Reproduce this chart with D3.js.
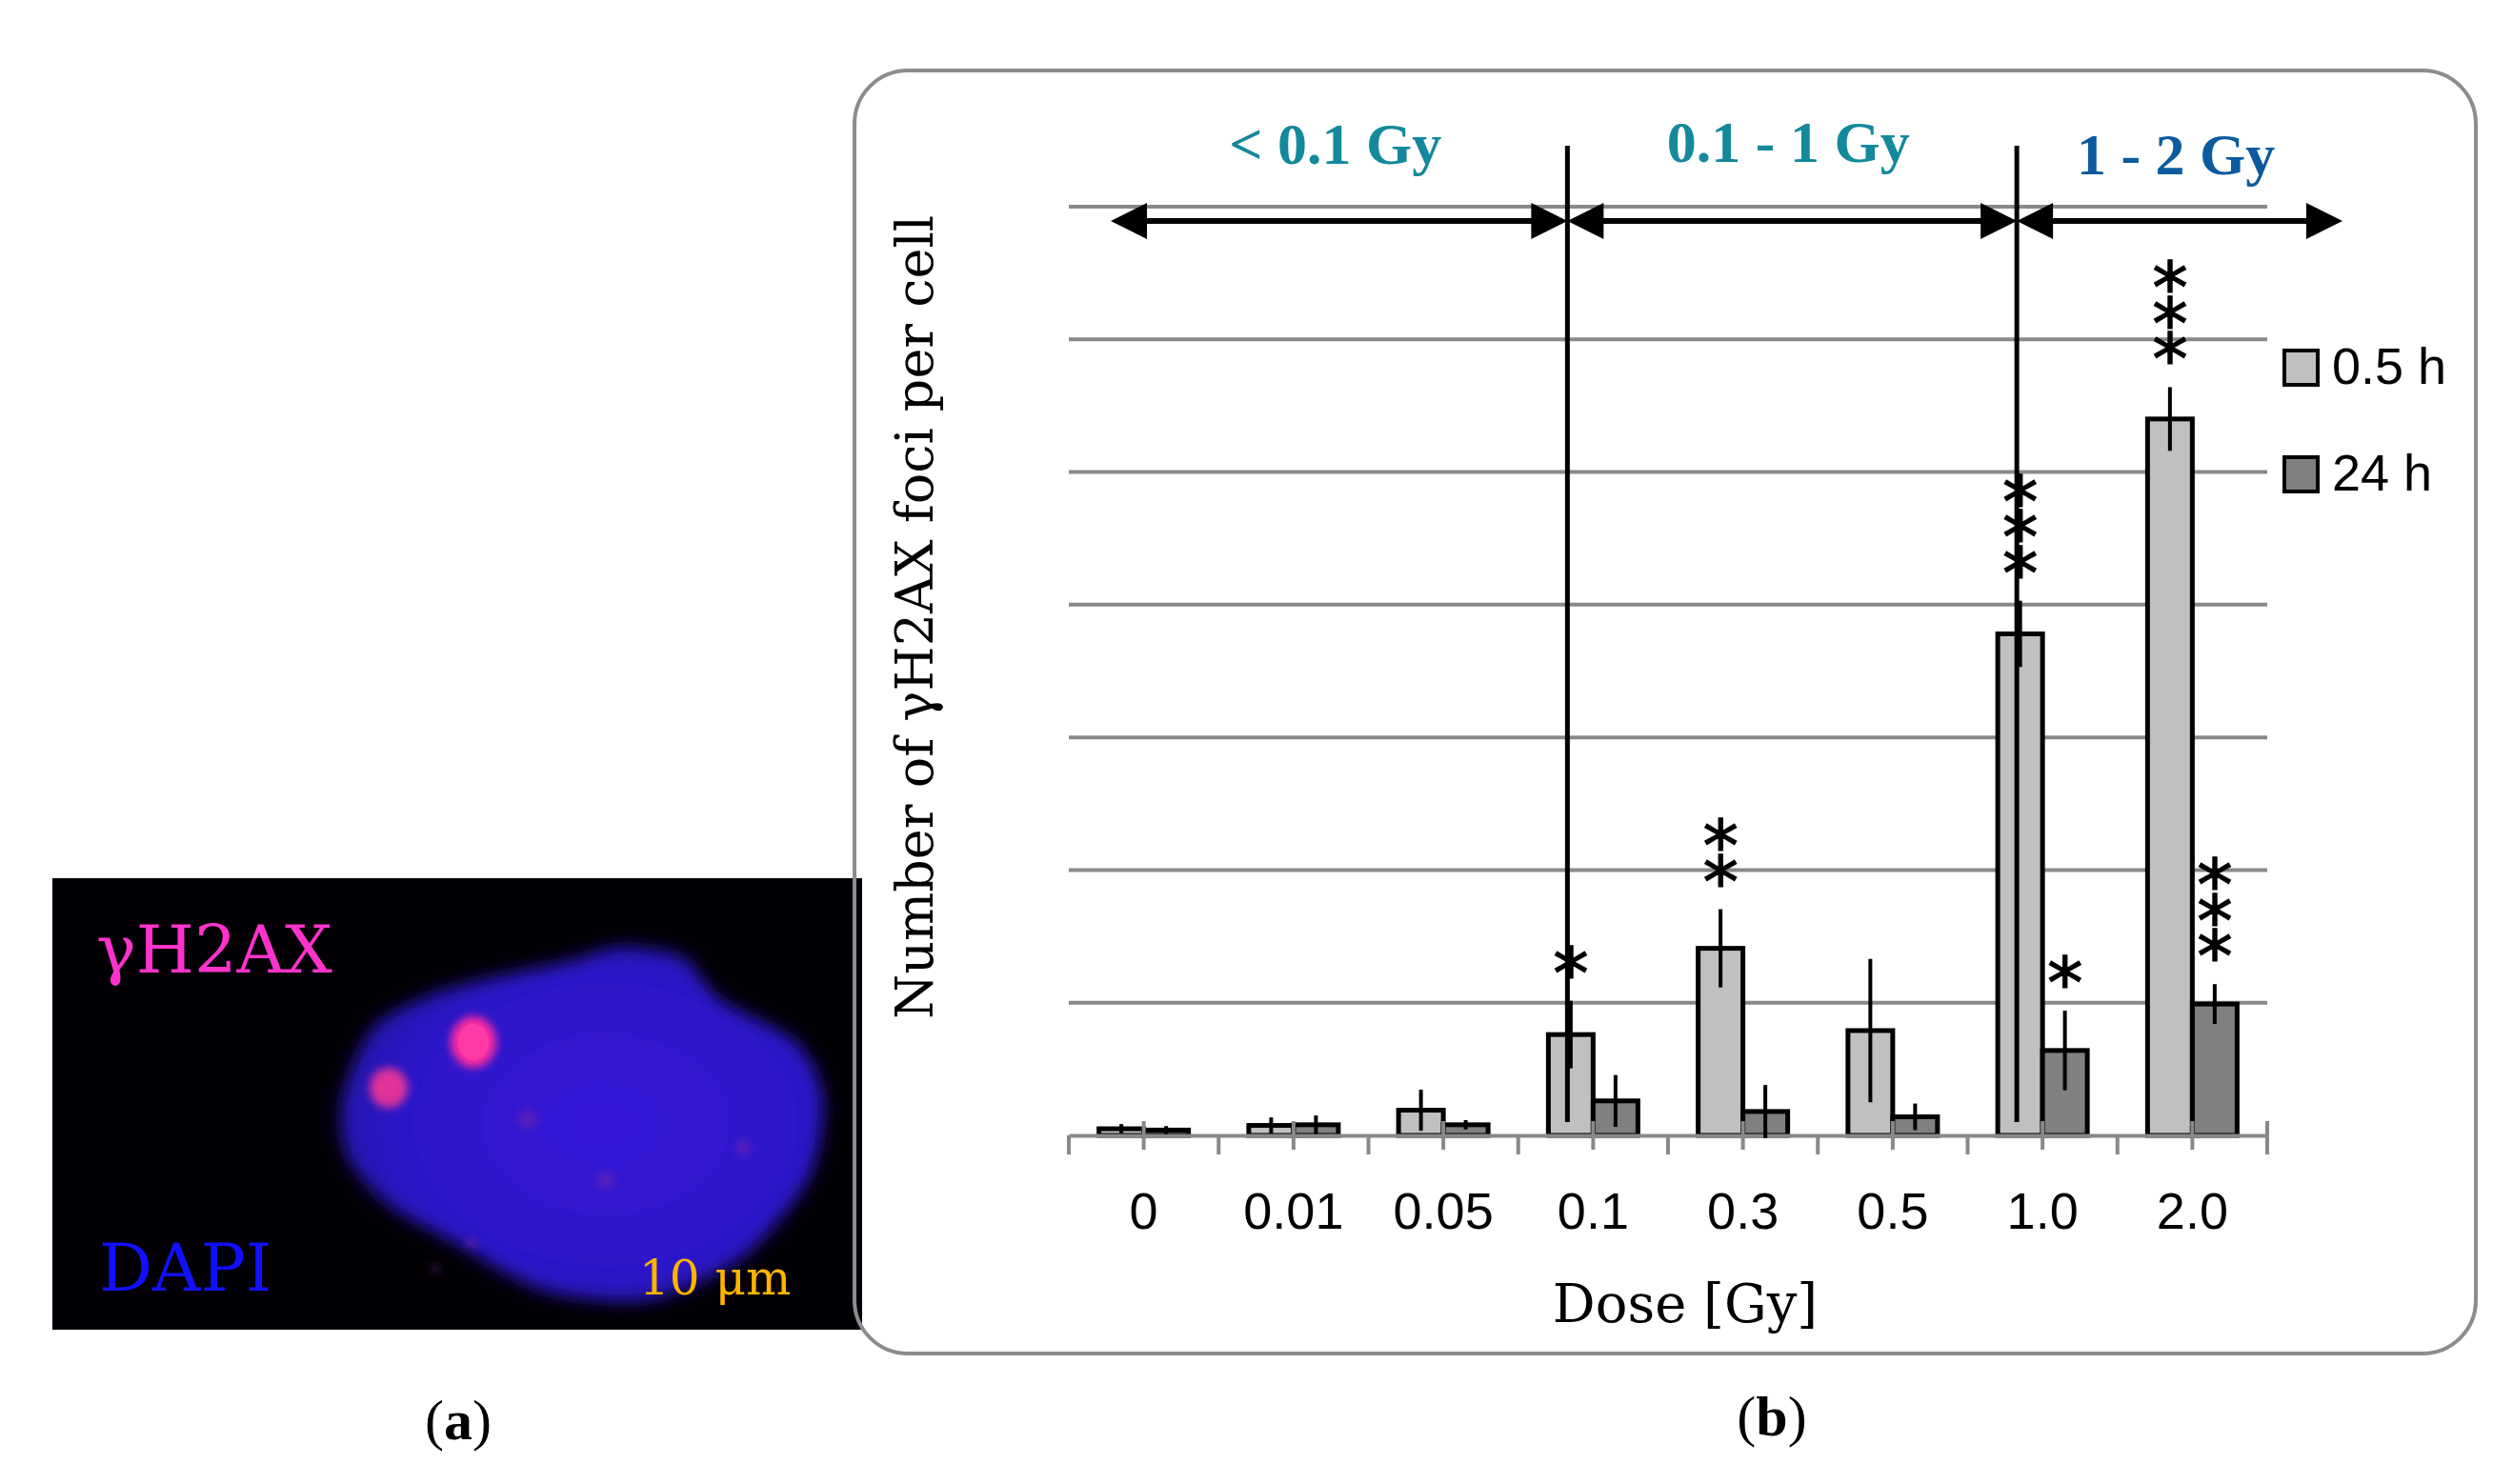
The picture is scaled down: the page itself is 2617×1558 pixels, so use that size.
<!DOCTYPE html>
<html lang="en">
<head>
<meta charset="UTF-8">
<title>gammaH2AX foci per cell</title>
<script src="https://cdn.jsdelivr.net/npm/d3@7"></script>
<style>
  body { margin: 0; background: #fff; }
  svg { display: block; }
</style>
</head>
<body>
<div id="container"></div>
<script>
// ---- data ----
const doses = ["0", "0.01", "0.05", "0.1", "0.3", "0.5", "1.0", "2.0"];
const seriesNames = ["0.5 h", "24 h"];
const foci05h = [0.05, 0.075, 0.19, 0.76, 1.41, 0.79, 3.78, 5.40];
const err05h  = [0.035, 0.06, 0.155, 0.255, 0.295, 0.54, 0.25, 0.24];
const foci24h = [0.04, 0.08, 0.08, 0.26, 0.18, 0.14, 0.64, 0.99];
const err24h  = [0.03, 0.07, 0.035, 0.195, 0.2, 0.1, 0.3, 0.15];
const sig05h  = ["", "", "", "*", "**", "", "***", "***"];
const sig24h  = ["", "", "", "", "", "", "*", "***"];
const yTicks = [1, 2, 3, 4, 5, 6, 7];
const rangeLabels = ["< 0.1 Gy", "0.1 - 1 Gy", "1 - 2 Gy"];
const rangeBreaks = ["0.1", "1.0"];

// nucleus outline for the micrograph in panel (a)
const nucleusOutline = [[359,1155],[392,1079],[468,1039],[598,1009],[652,994],[717,1005],
  [755,1049],[837,1095],[864,1155],[848,1239],[777,1322],[679,1365],[571,1355],[478,1305],
  [408,1265],[365,1215]];

const width = 2617, height = 1558;
const svg = d3.select("#container")
    .append("svg")
    .attr("width", width)
    .attr("height", height);

const defs = svg.append("defs");

// ---------------- panel (a): micrograph ----------------
defs.append("clipPath").attr("id", "photoClip")
    .append("rect").attr("x", 55).attr("y", 922).attr("width", 850).attr("height", 474);
defs.append("filter").attr("id", "blurBig").attr("x", "-20%").attr("y", "-20%").attr("width", "140%").attr("height", "140%")
    .append("feGaussianBlur").attr("stdDeviation", 9);
defs.append("filter").attr("id", "blurSmall").attr("x", "-50%").attr("y", "-50%").attr("width", "200%").attr("height", "200%")
    .append("feGaussianBlur").attr("stdDeviation", 5);
const grad = defs.append("radialGradient").attr("id", "nucGrad")
    .attr("cx", "55%").attr("cy", "50%").attr("r", "60%");
grad.append("stop").attr("offset", "0%").attr("stop-color", "#3519d8");
grad.append("stop").attr("offset", "70%").attr("stop-color", "#2c16ca");
grad.append("stop").attr("offset", "100%").attr("stop-color", "#2210a6");

const photo = svg.append("g").attr("clip-path", "url(#photoClip)");
photo.append("rect").attr("x", 55).attr("y", 922).attr("width", 850).attr("height", 474).attr("fill", "#020005");
photo.append("path")
    .attr("d", d3.line().curve(d3.curveCardinalClosed.tension(0.2))(nucleusOutline))
    .attr("fill", "url(#nucGrad)")
    .attr("filter", "url(#blurBig)");
// faint spots inside the nucleus
[[636,1239,9],[554,1175,10],[495,1305,6],[457,1332,4],[780,1205,8]].forEach(s => {
  photo.append("circle").attr("cx", s[0]).attr("cy", s[1]).attr("r", s[2])
      .attr("fill", "#7a2aa8").attr("opacity", 0.55).attr("filter", "url(#blurSmall)");
});
// gammaH2AX foci
photo.append("ellipse").attr("cx", 408).attr("cy", 1142).attr("rx", 20).attr("ry", 21)
    .attr("fill", "#e0339a").attr("filter", "url(#blurSmall)");
photo.append("ellipse").attr("cx", 497).attr("cy", 1094).attr("rx", 24).attr("ry", 27)
    .attr("fill", "#ff2aa0").attr("filter", "url(#blurSmall)");
photo.append("ellipse").attr("cx", 497).attr("cy", 1094).attr("rx", 16).attr("ry", 19)
    .attr("fill", "#ff3aa8");

photo.append("text").attr("x", 101).attr("y", 1021)
    .attr("font-family", "DejaVu Serif").attr("font-size", 70).attr("fill", "#ff33cc")
    .text("γH2AX");
photo.append("text").attr("x", 104).attr("y", 1355)
    .attr("font-family", "DejaVu Serif").attr("font-size", 70).attr("fill", "#1010ff")
    .text("DAPI");
photo.append("text").attr("x", 671).attr("y", 1359)
    .attr("font-family", "DejaVu Serif").attr("font-size", 50).attr("fill", "#ffb400")
    .text("10 μm");

// ---------------- panel (b): bar chart ----------------
svg.append("rect")
    .attr("x", 897).attr("y", 74).attr("width", 1702).attr("height", 1347)
    .attr("rx", 56).attr("ry", 56)
    .attr("fill", "none").attr("stroke", "#8c8c8c").attr("stroke-width", 4);

// scales
const xScale = d3.scaleBand().domain(doses).range([1122, 2380]);
const barW = 47;
const xSub = d3.scaleBand().domain(seriesNames).range([0, 2 * barW]);
const yScale = d3.scaleLinear().domain([0, 7]).range([1192, 217]);
const colors = d3.scaleOrdinal().domain(seriesNames).range(["#c0c0c0", "#808080"]);
const barLeft = (d, s) => xScale(d) + xScale.bandwidth() / 2 - barW + xSub(s);
const barMid = (d, s) => barLeft(d, s) + barW / 2;

// gridlines
svg.append("g").selectAll("line")
    .data(yTicks).enter().append("line")
    .attr("x1", xScale.range()[0]).attr("x2", xScale.range()[1])
    .attr("y1", d => yScale(d)).attr("y2", d => yScale(d))
    .attr("stroke", "#898989").attr("stroke-width", 4);

// bars
const rows = [];
doses.forEach((d, i) => {
  rows.push({dose: d, s: seriesNames[0], v: foci05h[i], e: err05h[i], sig: sig05h[i]});
  rows.push({dose: d, s: seriesNames[1], v: foci24h[i], e: err24h[i], sig: sig24h[i]});
});
svg.append("g").selectAll("rect")
    .data(rows).enter().append("rect")
    .attr("x", d => barLeft(d.dose, d.s))
    .attr("y", d => yScale(d.v))
    .attr("width", barW)
    .attr("height", d => yScale(0) - yScale(d.v))
    .attr("fill", d => colors(d.s))
    .attr("stroke", "#000").attr("stroke-width", 5);

// x axis
const xAxis = svg.append("g")
    .attr("transform", `translate(0,${yScale(0)})`)
    .call(d3.axisBottom(xScale).tickSizeInner(15).tickSizeOuter(0));
xAxis.select(".domain").attr("stroke", "#898989").attr("stroke-width", 4);
xAxis.selectAll(".tick line").attr("y1", -15).attr("y2", 15)
    .attr("stroke", "#898989").attr("stroke-width", 4);
xAxis.selectAll(".tick text")
    .attr("y", 98).attr("dy", 0)
    .attr("font-family", "Liberation Sans, Arial, sans-serif")
    .attr("font-size", 54).attr("fill", "#000");
const bounds = doses.map(d => xScale(d)).concat([xScale.range()[1]]);
xAxis.append("g").selectAll("line")
    .data(bounds).enter().append("line")
    .attr("x1", d => d).attr("x2", d => d)
    .attr("y1", (d, i) => i === bounds.length - 1 ? -15 : 0).attr("y2", 20)
    .attr("stroke", "#898989").attr("stroke-width", 4);

// error bars
svg.append("g").selectAll("line")
    .data(rows).enter().append("line")
    .attr("x1", d => barMid(d.dose, d.s)).attr("x2", d => barMid(d.dose, d.s))
    .attr("y1", d => yScale(d.v - d.e)).attr("y2", d => yScale(d.v + d.e))
    .attr("stroke", "#000").attr("stroke-width", 4);

// significance stars: one line of text run upward, each glyph turned back upright
const starGap = 45, starSize = 75;
svg.append("g").selectAll("text")
    .data(rows.filter(r => r.sig.length > 0)).enter().append("text")
    .attr("transform", r => {
      const x0 = barMid(r.dose, r.s) - 0.25 * starSize;
      const y0 = yScale(r.v + r.e) - starGap + 0.56 * starSize;
      return `translate(${x0},${y0}) rotate(-90)`;
    })
    .attr("rotate", 90)
    .attr("font-family", "DejaVu Sans, sans-serif").attr("font-size", starSize)
    .attr("stroke", "#000").attr("stroke-width", 1.2)
    .text(r => r.sig);

// dose range separators and arrows
const sepX = d => barMid(d, seriesNames[0]) - 3.5;
const arrowY = 232;
const ends = [xScale.range()[0] + 44, sepX(rangeBreaks[0]), sepX(rangeBreaks[1]), xScale.range()[1] + 79];
const annot = svg.append("g");
rangeBreaks.forEach(d => {
  annot.append("line")
      .attr("x1", sepX(d)).attr("x2", sepX(d))
      .attr("y1", 153).attr("y2", 1178)
      .attr("stroke", "#000").attr("stroke-width", 5);
});
const head = (tx, dir) => `M${tx},${arrowY} L${tx + dir * 38},${arrowY - 19} L${tx + dir * 38},${arrowY + 19} Z`;
const labelColors = ["#13899b", "#13899b", "#0b5b9e"];
const labelBase = [172, 170, 183];
rangeLabels.forEach((lab, i) => {
  const a = ends[i], b = ends[i + 1];
  annot.append("line")
      .attr("x1", a + 10).attr("x2", b - 10)
      .attr("y1", arrowY).attr("y2", arrowY)
      .attr("stroke", "#000").attr("stroke-width", 6);
  annot.append("path").attr("d", head(a, 1)).attr("fill", "#000");
  annot.append("path").attr("d", head(b, -1)).attr("fill", "#000");
  annot.append("text")
      .attr("x", (a + b) / 2 - 4).attr("y", labelBase[i])
      .attr("text-anchor", "middle")
      .attr("font-family", "Liberation Serif, serif").attr("font-weight", "bold")
      .attr("font-size", 62).attr("fill", labelColors[i])
      .text(lab);
});

// legend
const legend = svg.append("g").attr("class", "legend");
seriesNames.forEach((s, i) => {
  legend.append("rect")
      .attr("x", 2398).attr("y", 368 + i * 112)
      .attr("width", 35).attr("height", 36)
      .attr("fill", colors(s)).attr("stroke", "#000").attr("stroke-width", 4);
  legend.append("text")
      .attr("x", 2448).attr("y", 403 + i * 112)
      .attr("font-family", "Liberation Sans, Arial, sans-serif").attr("font-size", 54)
      .text(s);
});

// axis titles
svg.append("text")
    .attr("x", 1769).attr("y", 1388)
    .attr("text-anchor", "middle")
    .attr("font-family", "DejaVu Serif, serif").attr("font-size", 56)
    .text("Dose [Gy]");
svg.append("text")
    .attr("transform", "rotate(-90)")
    .attr("x", -648).attr("y", 979)
    .attr("text-anchor", "middle")
    .attr("font-family", "DejaVu Serif, serif").attr("font-size", 54)
    .text("Number of γH2AX foci per cell");

// panel labels
const panelLabel = (x, y, letter) => {
  const t = svg.append("text").attr("x", x).attr("y", y).attr("text-anchor", "middle")
      .attr("font-family", "Liberation Serif, serif").attr("font-size", 60);
  t.append("tspan").text("(");
  t.append("tspan").attr("font-weight", "bold").text(letter);
  t.append("tspan").text(")");
};
panelLabel(481, 1511, "a");
panelLabel(1860, 1507, "b");
</script>
</body>
</html>
